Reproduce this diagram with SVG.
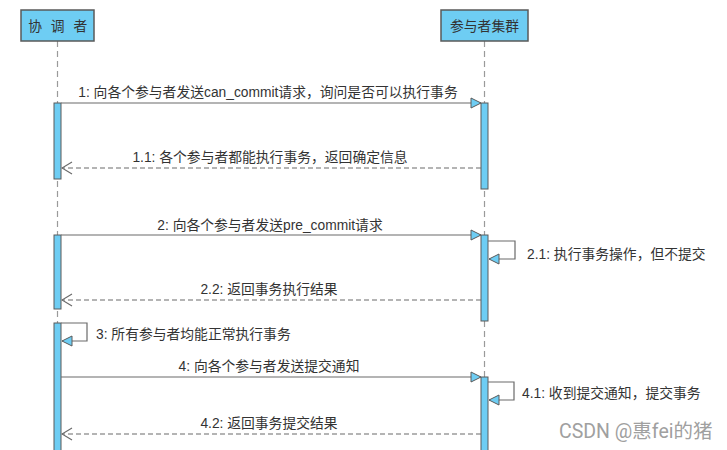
<svg xmlns="http://www.w3.org/2000/svg" width="727" height="450" viewBox="0 0 727 450">
<defs>
<style>
.box{fill:#6ECDF3;stroke:#5a5a5a;stroke-width:1.5}
.bar{fill:#6ECDF3;stroke:#5a5a5a;stroke-width:1}
.life{stroke:#9a9a9a;stroke-width:1.2;stroke-dasharray:6,4;fill:none}
.msg{stroke:#6a6a6a;stroke-width:1.2;fill:none}
.ret{stroke:#6a6a6a;stroke-width:1.2;fill:none;stroke-dasharray:5,3}
.t{font-family:"Liberation Sans","Noto Sans CJK SC",sans-serif;font-size:13.8px;fill:#333}
.c{text-anchor:middle}
.wm{font-family:"Roboto","Liberation Sans","Noto Sans CJK SC",sans-serif;font-size:19.5px;fill:#a0a0a0}
</style>
<marker id="fill" markerWidth="12" markerHeight="12" viewBox="0 0 12 12" refX="11" refY="6" orient="auto" markerUnits="userSpaceOnUse">
<path d="M1,1 L11,6 L1,11 Z" fill="#6ECDF3" stroke="#5a5a5a" stroke-width="1"/>
</marker>
<marker id="open" markerWidth="12" markerHeight="14" viewBox="0 0 12 14" refX="11" refY="7" orient="auto" markerUnits="userSpaceOnUse">
<path d="M1,1 L11,7 L1,13" fill="none" stroke="#6a6a6a" stroke-width="1.2"/>
</marker>
</defs>
<rect width="727" height="450" fill="#fff"/>
<g id="coordinator">
<line class="life" x1="57.5" y1="41" x2="57.5" y2="450"/>
<rect class="box" x="21" y="10" width="73" height="31"/>
<text class="t c" x="59" y="31" font-size="14" letter-spacing="2.5">协 调 者</text>
<rect class="bar" x="54" y="103" width="7" height="76"/>
<rect class="bar" x="54" y="235" width="7" height="74"/>
<rect class="bar" x="54" y="323" width="7" height="130"/>
</g>
<g id="participants">
<line class="life" x1="484.5" y1="41" x2="484.5" y2="450"/>
<rect class="box" x="441" y="10" width="87" height="31"/>
<text class="t c" x="484.5" y="31">参与者集群</text>
<rect class="bar" x="481" y="103" width="7" height="86"/>
<rect class="bar" x="481" y="235" width="7" height="86"/>
<rect class="bar" x="481" y="377" width="7" height="76"/>
</g>
<g id="connectors">
<line class="msg" x1="61" y1="103" x2="481" y2="103" marker-end="url(#fill)"/>
<text class="t c" x="268" y="97">1: 向各个参与者发送can_commit请求，询问是否可以执行事务</text>
<line class="ret" x1="481" y1="168" x2="62" y2="168" marker-end="url(#open)"/>
<text class="t c" x="270" y="162">1.1: 各个参与者都能执行事务，返回确定信息</text>
<line class="msg" x1="61" y1="235" x2="481" y2="235" marker-end="url(#fill)"/>
<text class="t c" x="270" y="230">2: 向各个参与者发送pre_commit请求</text>
<polyline class="msg" points="488,241 515,241 515,259 489,259" marker-end="url(#fill)"/>
<text class="t" x="527" y="259">2.1: 执行事务操作，但不提交</text>
<line class="ret" x1="481" y1="300" x2="62" y2="300" marker-end="url(#open)"/>
<text class="t c" x="269" y="294">2.2: 返回事务执行结果</text>
<polyline class="msg" points="61,323 87,323 87,341 62,341" marker-end="url(#fill)"/>
<text class="t" x="96" y="339">3: 所有参与者均能正常执行事务</text>
<line class="msg" x1="61" y1="377" x2="481" y2="377" marker-end="url(#fill)"/>
<text class="t c" x="269" y="371">4: 向各个参与者发送提交通知</text>
<polyline class="msg" points="488,382 514,382 514,400 489,400" marker-end="url(#fill)"/>
<text class="t" x="522" y="398">4.1: 收到提交通知，提交事务</text>
<line class="ret" x1="481" y1="434" x2="62" y2="434" marker-end="url(#open)"/>
<text class="t c" x="269" y="428">4.2: 返回事务提交结果</text>
</g>
<text class="wm" x="559" y="438">CSDN @惠fei的猪</text>
</svg>
